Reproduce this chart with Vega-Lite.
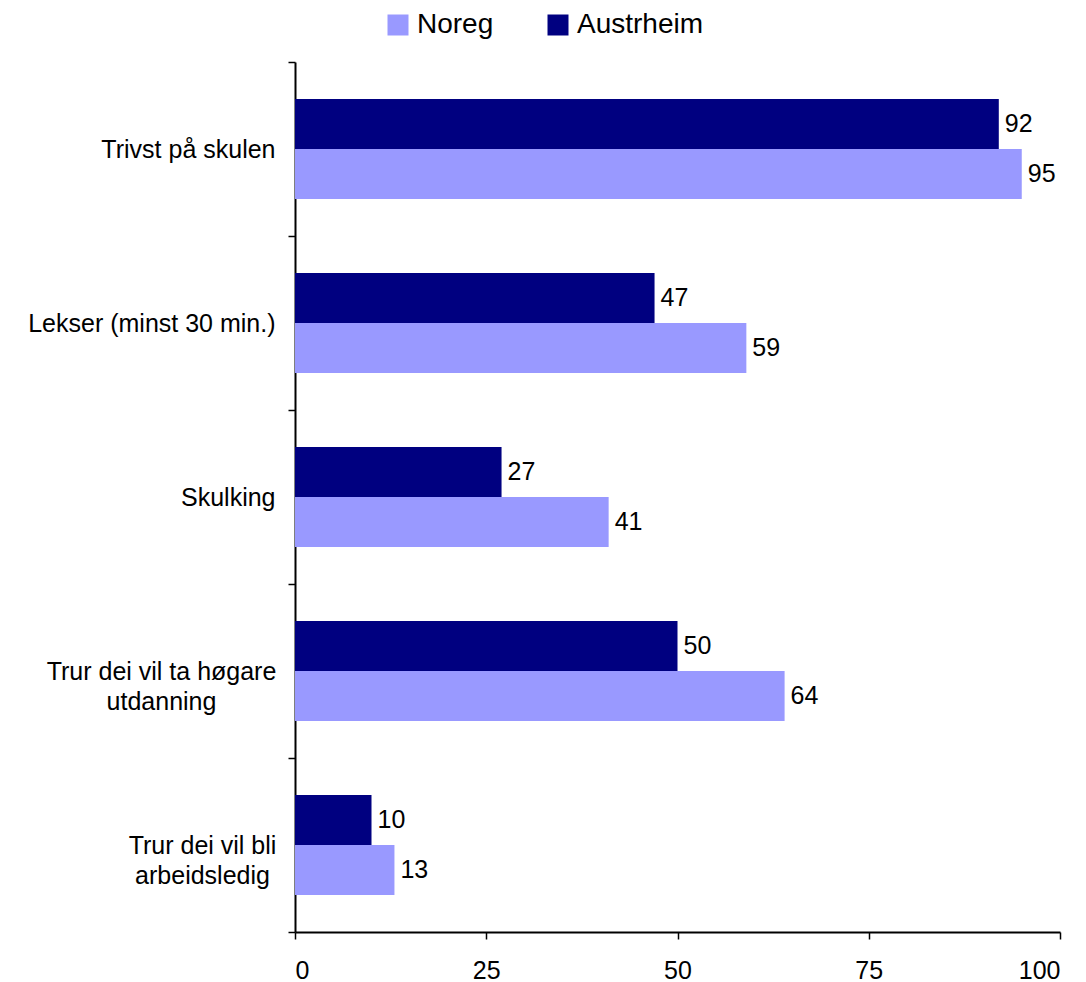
{
  "$schema": "https://vega.github.io/schema/vega-lite/v6.json",
  "width": 765,
  "height": 870,
  "autosize": {"type": "none"},
  "padding": {"left": 295, "top": 62, "right": 26, "bottom": 50},
  "background": "white",
  "config": {"view": {"stroke": null}, "font": "Liberation Sans"},
  "data": {
    "values": [
      {"cat": "Trivst på skulen", "series": "Austrheim", "value": 92},
      {"cat": "Trivst på skulen", "series": "Noreg", "value": 95},
      {"cat": "Lekser (minst 30 min.)", "series": "Austrheim", "value": 47},
      {"cat": "Lekser (minst 30 min.)", "series": "Noreg", "value": 59},
      {"cat": "Skulking", "series": "Austrheim", "value": 27},
      {"cat": "Skulking", "series": "Noreg", "value": 41},
      {"cat": "Trur dei vil ta høgare utdanning", "series": "Austrheim", "value": 50},
      {"cat": "Trur dei vil ta høgare utdanning", "series": "Noreg", "value": 64},
      {"cat": "Trur dei vil bli arbeidsledig", "series": "Austrheim", "value": 10},
      {"cat": "Trur dei vil bli arbeidsledig", "series": "Noreg", "value": 13}
    ]
  },
  "encoding": {
    "y": {
      "field": "cat",
      "type": "nominal",
      "sort": ["Trivst på skulen", "Lekser (minst 30 min.)", "Skulking", "Trur dei vil ta høgare utdanning", "Trur dei vil bli arbeidsledig"],
      "scale": {"paddingInner": 0, "paddingOuter": 0},
      "axis": {
        "title": null,
        "tickBand": "extent",
        "domainColor": "black",
        "domainWidth": 2,
        "tickColor": "black",
        "tickWidth": 1.5,
        "tickSize": 7,
        "labelFontSize": 25,
        "labelColor": "black",
        "labelAlign": {
          "condition": {"test": "datum.value == 'Trur dei vil ta høgare utdanning' || datum.value == 'Trur dei vil bli arbeidsledig'", "value": "center"},
          "value": "right"
        },
        "labelPadding": {
          "condition": [
            {"test": "datum.value == 'Trur dei vil ta høgare utdanning'", "value": 127},
            {"test": "datum.value == 'Trur dei vil bli arbeidsledig'", "value": 86}
          ],
          "value": 13
        },
        "labelLineHeight": 30,
        "labelLimit": 0,
        "labelExpr": "datum.value == 'Trur dei vil ta høgare utdanning' ? ['Trur dei vil ta høgare', 'utdanning'] : datum.value == 'Trur dei vil bli arbeidsledig' ? ['Trur dei vil bli', 'arbeidsledig'] : datum.value"
      }
    },
    "yOffset": {
      "field": "series",
      "sort": ["Austrheim", "Noreg"],
      "scale": {"paddingInner": 0, "paddingOuter": 0.74}
    },
    "x": {
      "field": "value",
      "type": "quantitative",
      "scale": {"domain": [0, 100]},
      "axis": {
        "values": [0, 25, 50, 75, 100],
        "title": null,
        "grid": false,
        "domainColor": "black",
        "domainWidth": 2,
        "tickColor": "black",
        "tickWidth": 1.5,
        "tickSize": 7,
        "labelFontSize": 25,
        "labelColor": "black",
        "labelPadding": 19
      }
    }
  },
  "layer": [
    {
      "mark": {"type": "bar"},
      "encoding": {
        "color": {
          "field": "series",
          "type": "nominal",
          "scale": {"domain": ["Noreg", "Austrheim"], "range": ["#9999FF", "#000080"]},
          "legend": {
            "orient": "none",
            "legendX": 89,
            "legendY": -51,
            "direction": "horizontal",
            "title": null,
            "symbolType": "square",
            "symbolSize": 441,
            "symbolStrokeWidth": 0,
            "symbolOpacity": 1,
            "labelFontSize": 28,
            "labelColor": "black",
            "columnPadding": 50,
            "labelOffset": 5,
            "padding": 0
          }
        }
      }
    },
    {
      "mark": {"type": "text", "align": "left", "dx": 6, "fontSize": 25, "baseline": "middle", "color": "black"},
      "encoding": {"text": {"field": "value", "type": "quantitative"}}
    }
  ]
}
